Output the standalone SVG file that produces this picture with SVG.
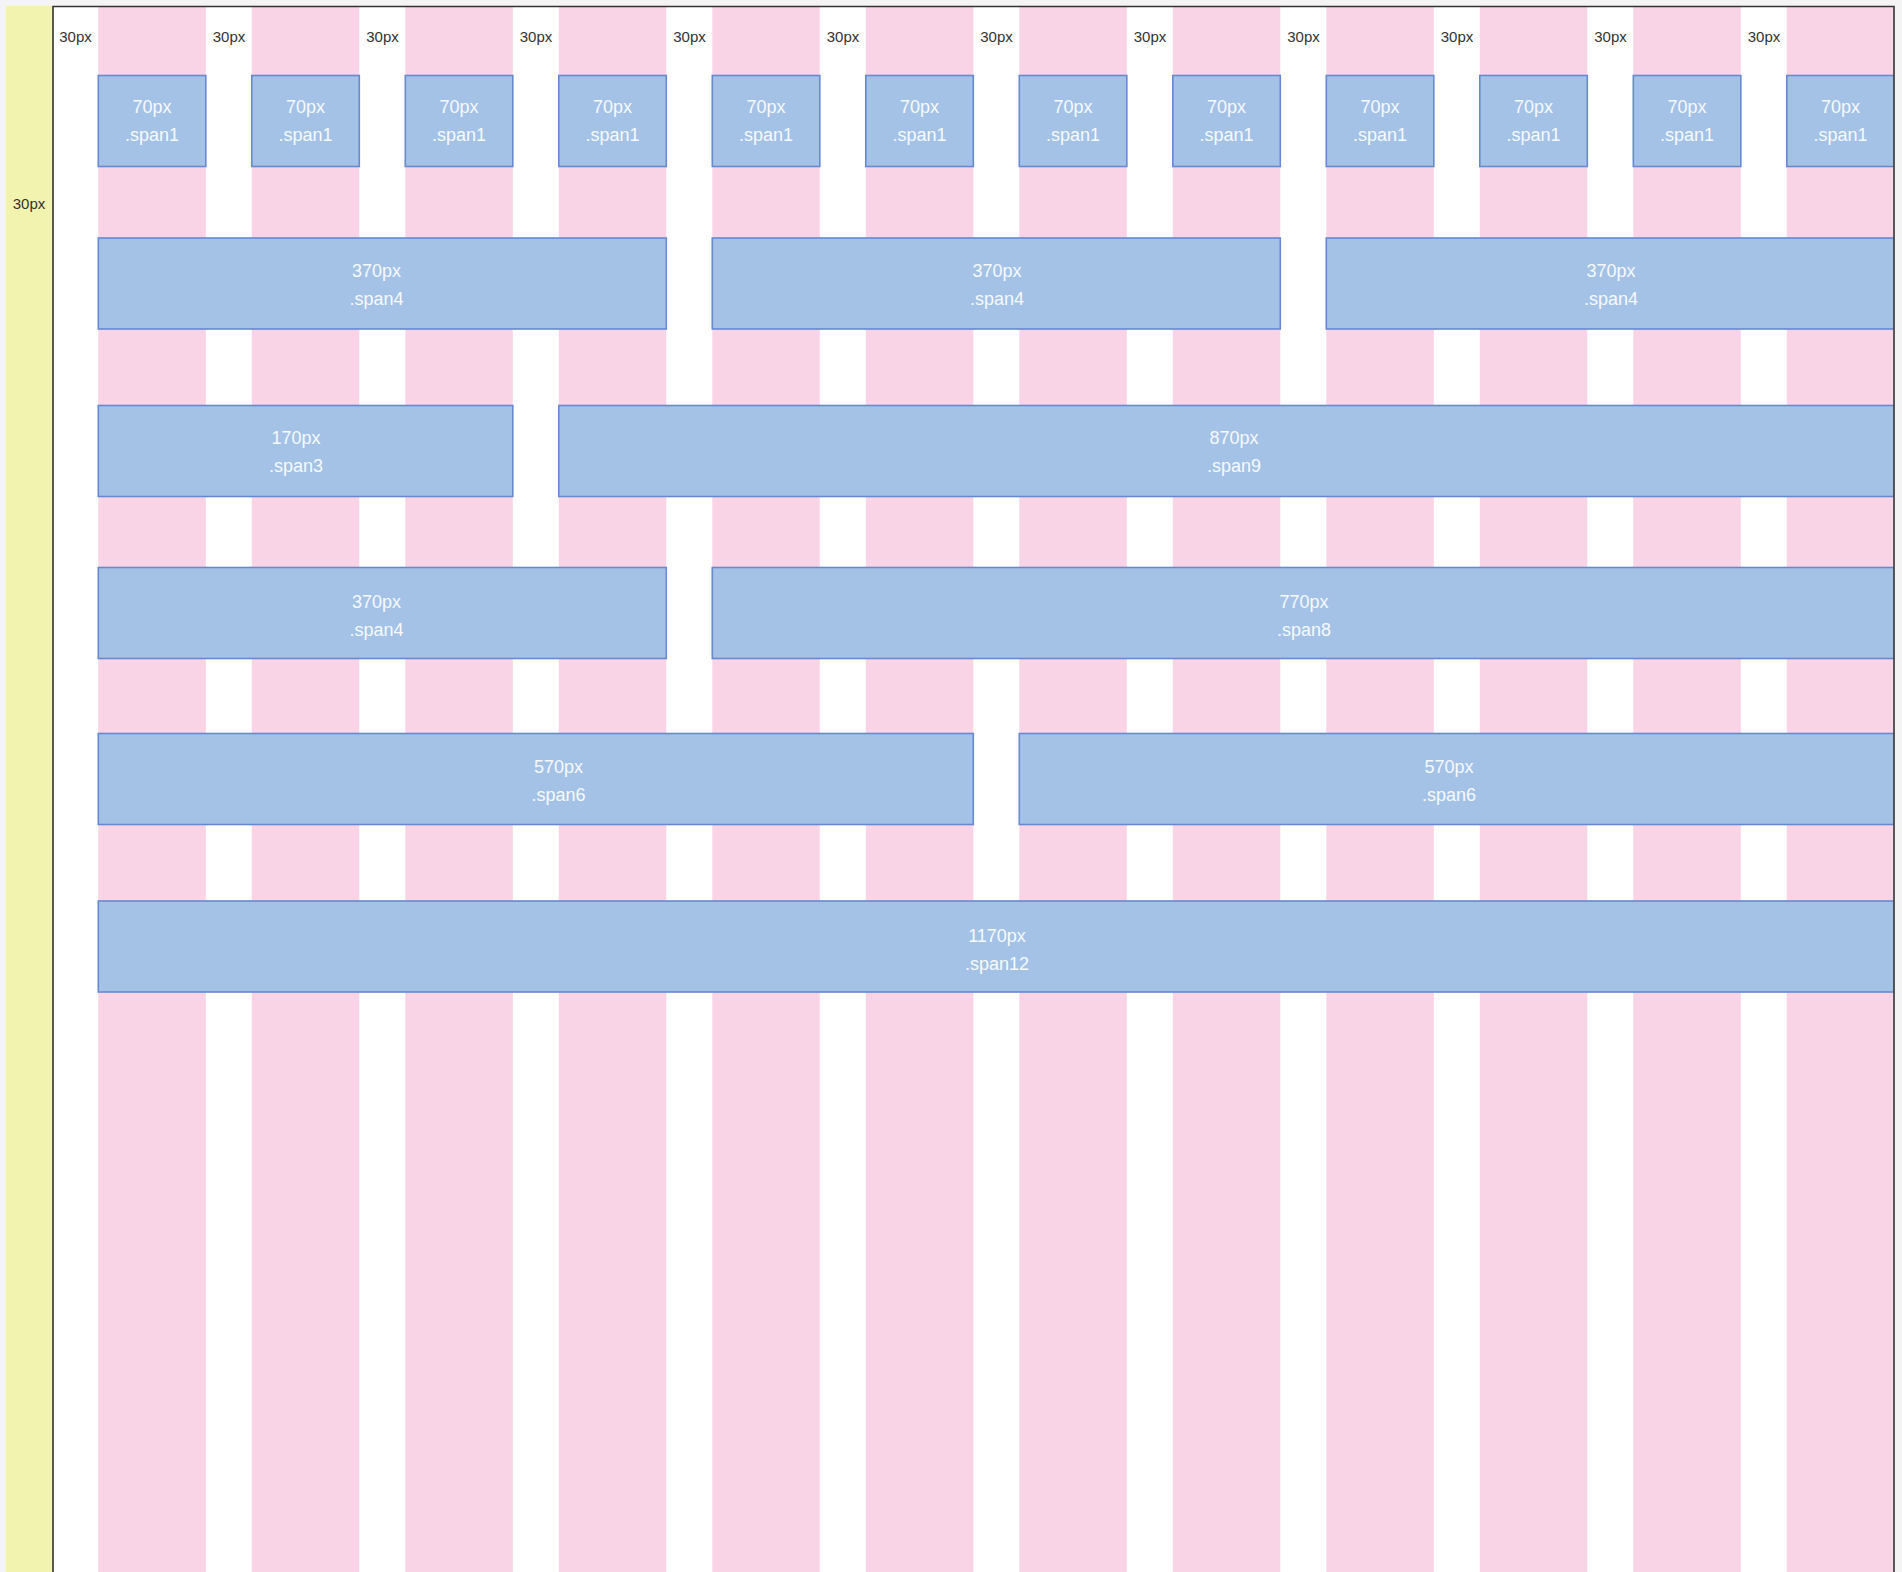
<svg xmlns="http://www.w3.org/2000/svg" width="1902" height="1572" viewBox="0 0 1902 1572">
<style>
.col{fill:#f9d4e6}
.box{fill:#a4c2e6;stroke:#6689d0;stroke-width:1.6}
.bt{font-family:"Liberation Sans",Arial,sans-serif;font-size:18px;fill:#f6f9fd;text-anchor:middle}
.gl{font-family:"Liberation Sans",Arial,sans-serif;font-size:15px;fill:#333;text-anchor:middle}
</style>
<defs>
<clipPath id="frame"><rect x="53" y="6" width="1840.5" height="1566"/></clipPath>
</defs>
<rect x="0" y="0" width="1902" height="1572" fill="#f4f4f4"/>
<rect x="6" y="6" width="47" height="1566" fill="#f3f3b0"/>
<rect x="53" y="6" width="1840.5" height="1566" fill="#ffffff"/>
<g id="columns" clip-path="url(#frame)">
<rect class="col" x="98.3" y="6" width="107.5" height="1566"/>
<rect class="col" x="251.8" y="6" width="107.5" height="1566"/>
<rect class="col" x="405.3" y="6" width="107.5" height="1566"/>
<rect class="col" x="558.8" y="6" width="107.5" height="1566"/>
<rect class="col" x="712.3" y="6" width="107.5" height="1566"/>
<rect class="col" x="865.8" y="6" width="107.5" height="1566"/>
<rect class="col" x="1019.3" y="6" width="107.5" height="1566"/>
<rect class="col" x="1172.8" y="6" width="107.5" height="1566"/>
<rect class="col" x="1326.3" y="6" width="107.5" height="1566"/>
<rect class="col" x="1479.8" y="6" width="107.5" height="1566"/>
<rect class="col" x="1633.3" y="6" width="107.5" height="1566"/>
<rect class="col" x="1786.8" y="6" width="107.5" height="1566"/>
</g>
<g id="gap-labels">
<text class="gl" x="75.5" y="41.5">30px</text>
<text class="gl" x="229" y="41.5">30px</text>
<text class="gl" x="382.5" y="41.5">30px</text>
<text class="gl" x="536" y="41.5">30px</text>
<text class="gl" x="689.5" y="41.5">30px</text>
<text class="gl" x="843" y="41.5">30px</text>
<text class="gl" x="996.5" y="41.5">30px</text>
<text class="gl" x="1150" y="41.5">30px</text>
<text class="gl" x="1303.5" y="41.5">30px</text>
<text class="gl" x="1457" y="41.5">30px</text>
<text class="gl" x="1610.5" y="41.5">30px</text>
<text class="gl" x="1764" y="41.5">30px</text>
<text class="gl" x="29" y="209">30px</text>
</g>
<g clip-path="url(#frame)">
<g id="row1">
<g id="r1b1"><rect class="box" x="98.3" y="75.5" width="107.5" height="91"/><text class="bt" x="152" y="112.5">70px</text><text class="bt" x="152" y="140.5">.span1</text></g>
<g id="r1b2"><rect class="box" x="251.8" y="75.5" width="107.5" height="91"/><text class="bt" x="305.5" y="112.5">70px</text><text class="bt" x="305.5" y="140.5">.span1</text></g>
<g id="r1b3"><rect class="box" x="405.3" y="75.5" width="107.5" height="91"/><text class="bt" x="459" y="112.5">70px</text><text class="bt" x="459" y="140.5">.span1</text></g>
<g id="r1b4"><rect class="box" x="558.8" y="75.5" width="107.5" height="91"/><text class="bt" x="612.5" y="112.5">70px</text><text class="bt" x="612.5" y="140.5">.span1</text></g>
<g id="r1b5"><rect class="box" x="712.3" y="75.5" width="107.5" height="91"/><text class="bt" x="766" y="112.5">70px</text><text class="bt" x="766" y="140.5">.span1</text></g>
<g id="r1b6"><rect class="box" x="865.8" y="75.5" width="107.5" height="91"/><text class="bt" x="919.5" y="112.5">70px</text><text class="bt" x="919.5" y="140.5">.span1</text></g>
<g id="r1b7"><rect class="box" x="1019.3" y="75.5" width="107.5" height="91"/><text class="bt" x="1073" y="112.5">70px</text><text class="bt" x="1073" y="140.5">.span1</text></g>
<g id="r1b8"><rect class="box" x="1172.8" y="75.5" width="107.5" height="91"/><text class="bt" x="1226.5" y="112.5">70px</text><text class="bt" x="1226.5" y="140.5">.span1</text></g>
<g id="r1b9"><rect class="box" x="1326.3" y="75.5" width="107.5" height="91"/><text class="bt" x="1380" y="112.5">70px</text><text class="bt" x="1380" y="140.5">.span1</text></g>
<g id="r1b10"><rect class="box" x="1479.8" y="75.5" width="107.5" height="91"/><text class="bt" x="1533.5" y="112.5">70px</text><text class="bt" x="1533.5" y="140.5">.span1</text></g>
<g id="r1b11"><rect class="box" x="1633.3" y="75.5" width="107.5" height="91"/><text class="bt" x="1687" y="112.5">70px</text><text class="bt" x="1687" y="140.5">.span1</text></g>
<g id="r1b12"><rect class="box" x="1786.8" y="75.5" width="107.5" height="91"/><text class="bt" x="1840.5" y="112.5">70px</text><text class="bt" x="1840.5" y="140.5">.span1</text></g>
</g>
<g id="row2">
<g id="r2b1"><rect class="box" x="98.3" y="238" width="568" height="91"/><text class="bt" x="376.5" y="276.5">370px</text><text class="bt" x="376.5" y="304.5">.span4</text></g>
<g id="r2b2"><rect class="box" x="712.3" y="238" width="568" height="91"/><text class="bt" x="997" y="276.5">370px</text><text class="bt" x="997" y="304.5">.span4</text></g>
<g id="r2b3"><rect class="box" x="1326.3" y="238" width="568" height="91"/><text class="bt" x="1611" y="276.5">370px</text><text class="bt" x="1611" y="304.5">.span4</text></g>
</g>
<g id="row3">
<g id="r3b1"><rect class="box" x="98.3" y="405.5" width="414.5" height="91"/><text class="bt" x="296" y="443.5">170px</text><text class="bt" x="296" y="471.5">.span3</text></g>
<g id="r3b2"><rect class="box" x="558.8" y="405.5" width="1335.5" height="91"/><text class="bt" x="1234" y="443.5">870px</text><text class="bt" x="1234" y="471.5">.span9</text></g>
</g>
<g id="row4">
<g id="r4b1"><rect class="box" x="98.3" y="567.5" width="568" height="91"/><text class="bt" x="376.5" y="607.5">370px</text><text class="bt" x="376.5" y="635.5">.span4</text></g>
<g id="r4b2"><rect class="box" x="712.3" y="567.5" width="1182" height="91"/><text class="bt" x="1304" y="607.5">770px</text><text class="bt" x="1304" y="635.5">.span8</text></g>
</g>
<g id="row5">
<g id="r5b1"><rect class="box" x="98.3" y="733.5" width="875" height="91"/><text class="bt" x="558.5" y="773">570px</text><text class="bt" x="558.5" y="801">.span6</text></g>
<g id="r5b2"><rect class="box" x="1019.3" y="733.5" width="875" height="91"/><text class="bt" x="1449" y="773">570px</text><text class="bt" x="1449" y="801">.span6</text></g>
</g>
<g id="row6">
<g id="r6b1"><rect class="box" x="98.3" y="901" width="1796" height="91"/><text class="bt" x="997" y="941.5">1170px</text><text class="bt" x="997" y="969.5">.span12</text></g>
</g>
</g>
<g id="connectors"/>
<path d="M53 1572 V6.5 H1894 V1572" fill="none" stroke="#333" stroke-width="1.6"/>
</svg>
